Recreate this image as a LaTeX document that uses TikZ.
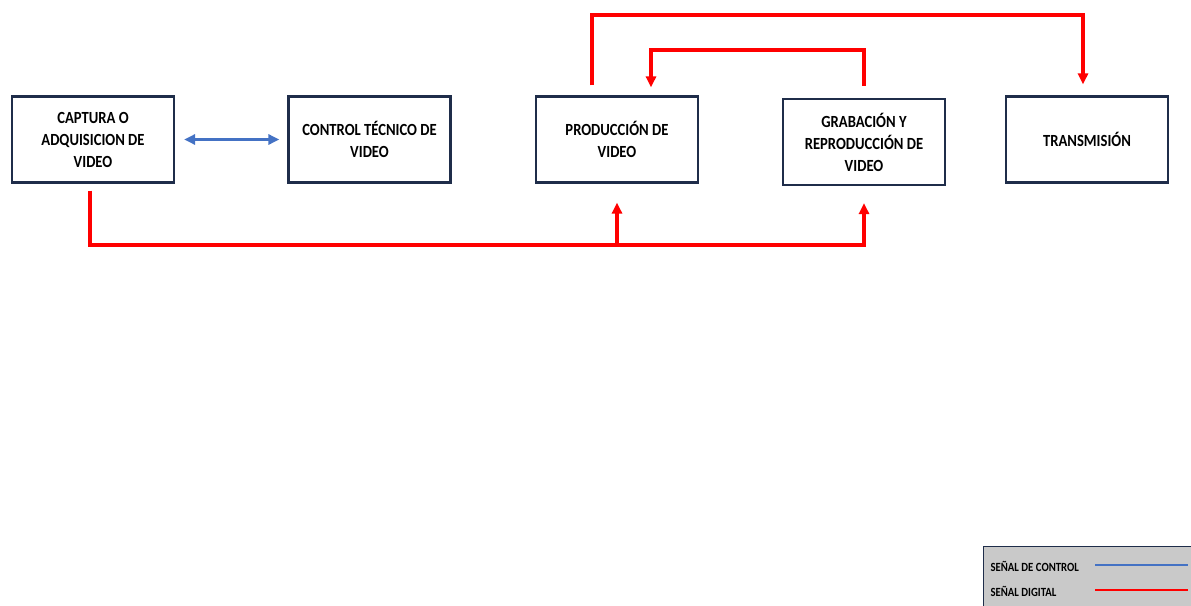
\documentclass[tikz,border=0pt]{standalone}
\usepackage{fontspec}
\setmainfont{Carlito}[FakeStretch=0.86]
\usetikzlibrary{arrows.meta,positioning}

\definecolor{boxline}{HTML}{1F2D4A}
\definecolor{sigred}{HTML}{FF0000}
\definecolor{sigblue}{HTML}{4472C4}
\definecolor{legfill}{HTML}{C9C9C9}

\tikzset{
  block/.style={draw=boxline,line width=2.2pt,minimum width=162pt,minimum height=86pt,
    align=center,font=\bfseries\fontsize{17}{22}\selectfont,inner sep=2pt},
  digital/.style={draw=sigred,line width=3.2pt},
  control/.style={draw=sigblue,line width=3.2pt},
  legtext/.style={font=\bfseries\fontsize{12.5}{14}\selectfont,anchor=west},
}

\begin{document}
\begin{tikzpicture}[x=1pt,y=-1pt,>={Triangle[length=11pt,width=10pt]}]
  \useasboundingbox (0,0) rectangle (1191,605);

  \node[block] (capt) at (93,139.5) {CAPTURA O\\ADQUISICION DE\\VIDEO};
  \node[block] (ctrl) at (369.5,139.5) {CONTROL TÉCNICO DE\\VIDEO};
  \node[block] (prod) at (617,139.5) {PRODUCCIÓN DE\\VIDEO};
  \node[block] (grab) at (864,142) {GRABACIÓN Y\\REPRODUCCIÓN DE\\VIDEO};
  \node[block] (trans) at (1087,139.5) {TRANSMISIÓN};

  % enlaces
  \coordinate (bus) at (90,245);
  \coordinate (top1) at (0,15);
  \coordinate (top2) at (0,50);
  \draw[control,<->,shorten <=9pt,shorten >=8pt] (capt.east) -- (ctrl.west);
  \draw[digital,->,shorten <=7pt,shorten >=17pt] ([xshift=-3pt]capt.south) |- (grab.south |- bus) -- (grab.south);
  \draw[digital,->,shorten >=19pt] (prod.south |- bus) -- (prod.south);
  \draw[digital,->,shorten <=10pt,shorten >=11pt] ([xshift=-25pt]prod.north) -- ([xshift=-25pt]prod.north |- top1) -| ([xshift=-4pt]trans.north);
  \draw[digital,->,shorten <=12pt,shorten >=8pt] (grab.north) -- (grab.north |- top2) -| ([xshift=34pt]prod.north);

  % leyenda
  \node[draw=boxline,line width=1pt,fill=legfill,minimum width=210pt,minimum height=60pt,anchor=north west] (leg) at (983,546) {};
  \node[legtext] (lctrl) at (987,566) {SEÑAL DE CONTROL};
  \node[legtext] (ldig) at (987,591) {SEÑAL DIGITAL};
  \draw[control,line width=2pt] (1095,565) -- (1188,565);
  \draw[digital,line width=2.6pt] (1095,590) -- (1188,590);
\end{tikzpicture}
\end{document}
